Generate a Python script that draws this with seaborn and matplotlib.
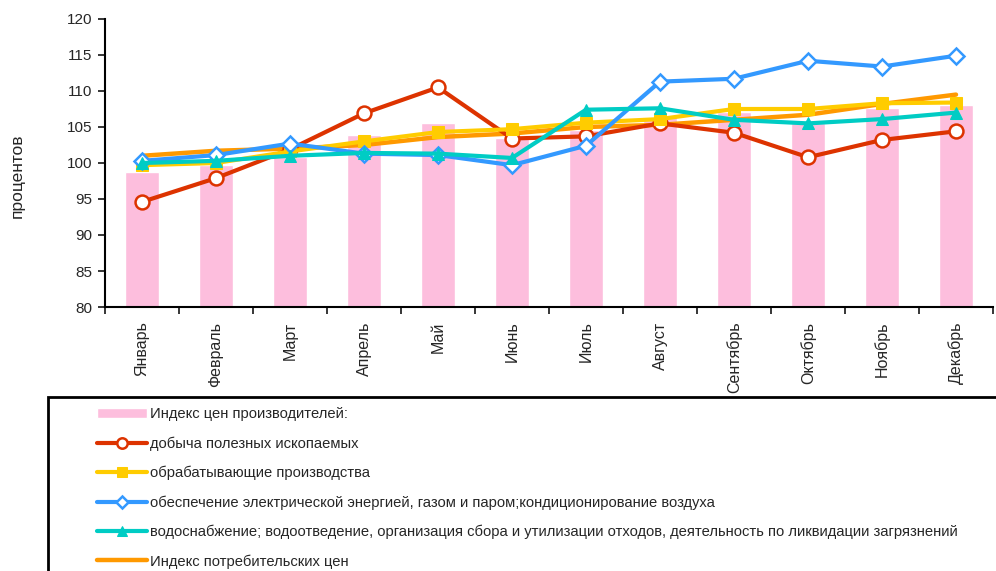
import pandas as pd
import matplotlib.pyplot as plt
import seaborn as sns
from matplotlib.patches import Rectangle
from matplotlib.ticker import FixedLocator

# Data
months = ["Январь", "Февраль", "Март", "Апрель", "Май", "Июнь",
          "Июль", "Август", "Сентябрь", "Октябрь", "Ноябрь", "Декабрь"]
ppi = [98.8, 99.7, 100.9, 103.9, 105.5, 103.5, 104.6, 106.4, 107.1, 105.5, 107.6, 108.1]
mining = [94.6, 97.9, 101.9, 106.9, 110.5, 103.4, 103.7, 105.5, 104.2, 100.8, 103.2, 104.4]
manufacturing = [99.7, 100.0, 101.6, 103.0, 104.3, 104.7, 105.6, 106.1, 107.5, 107.5, 108.3, 108.4]
electricity = [100.3, 101.1, 102.7, 101.3, 101.1, 99.7, 102.4, 111.3, 111.7, 114.2, 113.4, 114.9]
water = [100.0, 100.3, 101.0, 101.4, 101.3, 100.7, 107.4, 107.6, 106.0, 105.5, 106.1, 107.0]
cpi = [101.0, 101.7, 102.0, 102.5, 103.6, 104.1, 105.0, 105.3, 106.0, 106.7, 108.2, 109.5]

labels = [
    "Индекс цен производителей:",
    "добыча полезных ископаемых",
    "обрабатывающие производства",
    "обеспечение электрической энергией, газом и паром;кондиционирование воздуха",
    "водоснабжение; водоотведение, организация сбора и утилизации отходов, деятельность по ликвидации загрязнений",
    "Индекс потребительских цен",
]

sns.set_style("white")
plt.rcParams["font.family"] = ["Liberation Sans", "DejaVu Sans"]

df = pd.DataFrame({"month": months, "ppi": ppi})
x = list(range(len(months)))

fig = plt.figure(figsize=(9.96, 5.71), dpi=100)
ax = fig.add_axes([105 / 996, 1 - 307 / 571, 888 / 996, 288 / 571])

sns.barplot(data=df, x="month", y="ppi", color="#FDBEDD", saturation=1,
            width=0.45, ax=ax, label=labels[0], zorder=1)

# -----------------------------
# Lines
# -----------------------------
sns.lineplot(x=x, y=cpi, color="#FF9900", linewidth=3.2, ax=ax,
             label=labels[5], zorder=2)
sns.lineplot(x=x, y=mining, color="#DD3300", linewidth=3, marker="o",
             markersize=10, markerfacecolor="white", markeredgecolor="#DD3300",
             markeredgewidth=1.8, ax=ax, label=labels[1], zorder=3)
sns.lineplot(x=x, y=manufacturing, color="#FFCC00", linewidth=3, marker="s",
             markersize=9, markeredgecolor="#FFCC00", ax=ax,
             label=labels[2], zorder=4)
sns.lineplot(x=x, y=electricity, color="#3399FF", linewidth=3, marker="D",
             markersize=8, markerfacecolor="white", markeredgecolor="#3399FF",
             markeredgewidth=1.8, ax=ax, label=labels[3], zorder=5)
sns.lineplot(x=x, y=water, color="#00CCC4", linewidth=3, marker="^",
             markersize=9, markeredgecolor="#00CCC4", ax=ax,
             label=labels[4], zorder=6)

# -----------------------------
# Axes styling
# -----------------------------
ax.set_xlim(-0.5, 11.5)
ax.set_ylim(80, 120)
ax.set_yticks(range(80, 121, 5))
ax.tick_params(axis="y", labelsize=11, length=5, width=1.3, direction="out",
               left=True, pad=4)
ax.set_xticks(x)
ax.set_xticklabels(months, rotation=90, fontsize=11.5)
ax.tick_params(axis="x", which="major", length=0, pad=10.5)
ax.xaxis.set_minor_locator(FixedLocator([i - 0.5 for i in range(13)]))
ax.tick_params(axis="x", which="minor", length=5, width=1.3, direction="out",
               bottom=True)
ax.set_xlabel("")
ax.set_ylabel("")
for s in ["top", "right"]:
    ax.spines[s].set_visible(False)
for s in ["left", "bottom"]:
    ax.spines[s].set_color("black")
    ax.spines[s].set_linewidth(1.5)

fig.text(17 / 996, 1 - 176 / 571, "процентов", rotation=90, fontsize=12.5,
         ha="center", va="center")

# -----------------------------
# Legend
# -----------------------------
handles, labs = ax.get_legend_handles_labels()
order = [labels.index(l) for l in labs]
pairs = sorted(zip(order, handles, labs))
ax.get_legend().remove()
fig.legend([p[1] for p in pairs], [p[2] for p in pairs],
           loc="upper left", bbox_to_anchor=(90 / 996, 1 - 400 / 571),
           frameon=False, fontsize=10.6, handlelength=3.4, handletextpad=0.2,
           labelspacing=1.02, borderpad=0, markerscale=0.75)

fig.patches.append(Rectangle((48 / 996, -0.05), 1.0, 1 - 397 / 571 + 0.05,
                             transform=fig.transFigure, fill=False,
                             edgecolor="black", linewidth=2, clip_on=False))

plt.savefig("out.png", dpi=100)
